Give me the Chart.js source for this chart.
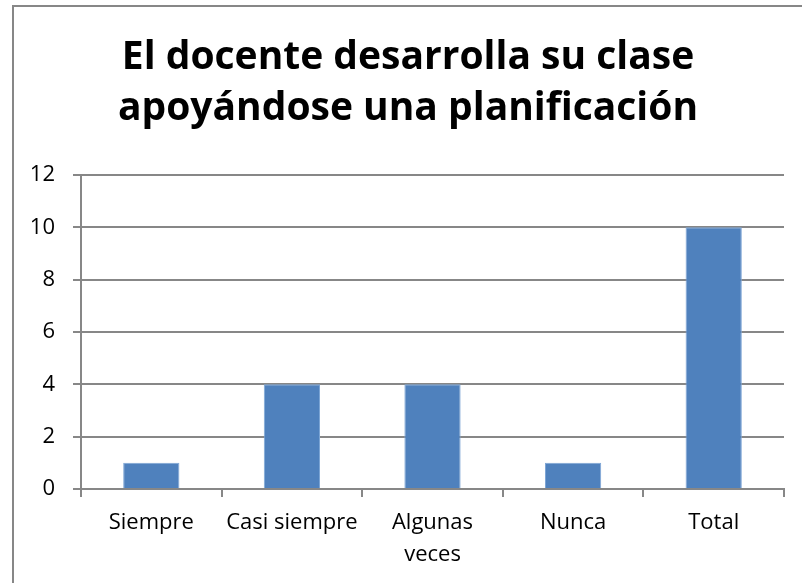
<!DOCTYPE html>
<html>
<head>
<meta charset="utf-8">
<script src="https://cdn.jsdelivr.net/npm/chart.js@4/dist/chart.umd.min.js"></script>
<style>
  html, body { margin: 0; padding: 0; background: #fff; overflow: hidden; }
  #frame {
    position: absolute; left: 12px; top: 5px;
    width: 788px; height: 576px;
    border-left: 2px solid #878787; border-top: 2px solid #878787;
  }
</style>
</head>
<body>
<div id="frame"><canvas id="chart" width="788" height="576"></canvas></div>
<script>
// datos
const categorias = ['Siempre', 'Casi siempre', ['Algunas', 'veces'], 'Nunca', 'Total'];
const valores    = [1, 4, 4, 1, 10];
const titulo     = ['El docente desarrolla su clase', 'apoyándose una planificación'];

const gris = '#878787';
const fuente = '"Open Sans", Lato, sans-serif';

new Chart(document.getElementById('chart'), {
  type: 'bar',
  data: {
    labels: categorias,
    datasets: [{
      data: valores,
      backgroundColor: '#4f81bd',
      borderColor: '#7ea6d6',
      borderWidth: 1,
      categoryPercentage: 1,
      barPercentage: 0.4
    }]
  },
  options: {
    responsive: false,
    animation: false,
    layout: { padding: { top: 25, right: 18, bottom: 0, left: 18 } },
    plugins: {
      legend: { display: false },
      tooltip: { enabled: false },
      title: {
        display: true,
        text: titulo,
        color: '#000',
        font: { family: fuente, size: 39, weight: 'bold', lineHeight: 1.32 },
        padding: { top: 0, bottom: 40 }
      }
    },
    scales: {
      x: {
        grid: { display: true, drawOnChartArea: false, offset: true, color: gris, lineWidth: 2, tickLength: 8 },
        border: { color: gris, width: 2 },
        ticks: { color: '#000', font: { family: fuente, size: 22, lineHeight: 1.45 }, padding: 10, maxRotation: 0 },
        afterFit: s => { s.height = 94; }
      },
      y: {
        min: 0, max: 12,
        ticks: { stepSize: 2, color: '#000', font: { family: fuente, size: 22 }, padding: 18 },
        grid: { color: gris, lineWidth: 2, tickLength: 8 },
        border: { color: gris, width: 2 },
        afterFit: s => { s.width = 49; }
      }
    }
  }
});
</script>
</body>
</html>
